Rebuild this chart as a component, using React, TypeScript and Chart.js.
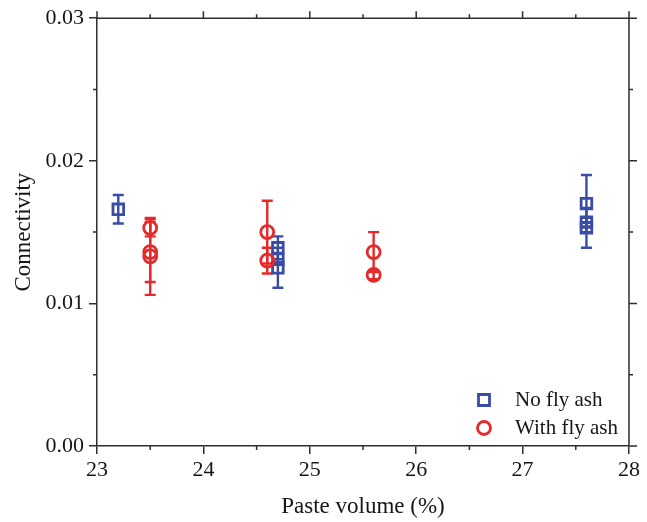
import React, { useEffect, useRef } from "react";
import { Chart, registerables } from "chart.js";

Chart.register(...registerables);

// ---- data ----
const xTickValues = [23, 24, 25, 26, 27, 28];
const yTickValues = [0, 0.01, 0.02, 0.03];

const noFlyAshX = [23.2, 24.7, 24.7, 24.7, 27.6, 27.6, 27.6];
const noFlyAshY = [0.0166, 0.0139, 0.0131, 0.0125, 0.017, 0.0157, 0.0153];
const noFlyAshErr = [0.001, 0.0008, 0.0004, 0.0014, 0.002, 0.0003, 0.0014];

const withFlyAshX = [23.5, 23.5, 23.5, 24.6, 24.6, 25.6, 25.6];
const withFlyAshY = [0.0153, 0.0136, 0.0133, 0.015, 0.013, 0.0136, 0.012];
const withFlyAshErr = [0.0006, 0.0021, 0.0027, 0.0022, 0.0009, 0.0014, 0.0003];

const seriesLabels = ["No fly ash", "With fly ash"];
const xTitle = "Paste volume (%)";
const yTitle = "Connectivity";

const BLUE = "#3a4da6";
const RED = "#e6292a";
const AXIS = "#2e2e2e";
const TEXT = "#161616";
const FONT = "'Liberation Serif', 'Times New Roman', serif";

const errorsByDataset: number[][] = [noFlyAshErr, withFlyAshErr];

const errorBarPlugin = {
  id: "errorBars",
  beforeDatasetsDraw(chart: any) {
    const ctx = chart.ctx;
    const yScale = chart.scales.y;
    chart.data.datasets.forEach((ds: any, di: number) => {
      const meta = chart.getDatasetMeta(di);
      const errs = errorsByDataset[di];
      ctx.save();
      ctx.strokeStyle = ds.borderColor;
      ctx.lineWidth = 2.4;
      meta.data.forEach((pt: any, i: number) => {
        const v = ds.data[i].y;
        const e = errs[i];
        const x = pt.x;
        const yTop = yScale.getPixelForValue(v + e);
        const yBot = yScale.getPixelForValue(v - e);
        const cap = 5.5;
        ctx.beginPath();
        ctx.moveTo(x, yTop);
        ctx.lineTo(x, yBot);
        ctx.moveTo(x - cap, yTop);
        ctx.lineTo(x + cap, yTop);
        ctx.moveTo(x - cap, yBot);
        ctx.lineTo(x + cap, yBot);
        ctx.stroke();
      });
      ctx.restore();
    });
  },
};

const framePlugin = {
  id: "frame",
  afterDraw(chart: any) {
    const ctx = chart.ctx;
    const { left, right, top, bottom } = chart.chartArea;
    const xs = chart.scales.x;
    const ys = chart.scales.y;
    ctx.save();
    ctx.strokeStyle = AXIS;
    ctx.lineWidth = 1.5;
    ctx.beginPath();
    ctx.moveTo(left, top);
    ctx.lineTo(right, top);
    ctx.moveTo(right, top);
    ctx.lineTo(right, bottom);
    for (let i = 0; i < xTickValues.length; i++) {
      const px = xs.getPixelForValue(xTickValues[i]);
      ctx.moveTo(px, top);
      ctx.lineTo(px, top - 7);
      if (i < xTickValues.length - 1) {
        const mv = (xTickValues[i] + xTickValues[i + 1]) / 2;
        const mp = xs.getPixelForValue(mv);
        ctx.moveTo(mp, top);
        ctx.lineTo(mp, top - 4);
        ctx.moveTo(mp, bottom);
        ctx.lineTo(mp, bottom + 4);
      }
    }
    for (let i = 0; i < yTickValues.length; i++) {
      const py = ys.getPixelForValue(yTickValues[i]);
      ctx.moveTo(right, py);
      ctx.lineTo(right + 8, py);
      if (i < yTickValues.length - 1) {
        const mv = (yTickValues[i] + yTickValues[i + 1]) / 2;
        const mp = ys.getPixelForValue(mv);
        ctx.moveTo(left, mp);
        ctx.lineTo(left - 4, mp);
        ctx.moveTo(right, mp);
        ctx.lineTo(right + 4, mp);
      }
    }
    ctx.stroke();

    // legend
    const mx = right - 145;
    const rows = [bottom - 46, bottom - 18];
    ctx.lineWidth = 2.8;
    ctx.font = `21px ${FONT}`;
    ctx.textBaseline = "middle";
    ctx.textAlign = "left";
    chart.data.datasets.forEach((ds: any, di: number) => {
      const y = rows[di];
      ctx.strokeStyle = ds.borderColor;
      ctx.beginPath();
      if (ds.pointStyle === "rect") {
        ctx.rect(mx - 5.5, y - 5.5, 11, 11);
      } else {
        ctx.arc(mx, y, 6.5, 0, Math.PI * 2);
      }
      ctx.stroke();
      ctx.fillStyle = TEXT;
      ctx.fillText(ds.label, mx + 31, y);
    });
    ctx.restore();
  },
};

export default function App() {
  const ref = useRef<HTMLCanvasElement>(null);
  useEffect(() => {
    document.body.style.margin = "0";
    const blueData = noFlyAshX.map((x, i) => ({ x, y: noFlyAshY[i] }));
    const redData = withFlyAshX.map((x, i) => ({ x, y: withFlyAshY[i] }));
    const chart = new Chart(ref.current as HTMLCanvasElement, {
      type: "scatter",
      data: {
        datasets: [
          {
            label: seriesLabels[0],
            data: blueData,
            pointStyle: "rect",
            pointRadius: 7.5,
            borderColor: BLUE,
            backgroundColor: "rgba(0,0,0,0)",
            borderWidth: 2.8,
            order: 2,
          },
          {
            label: seriesLabels[1],
            data: redData,
            pointStyle: "circle",
            pointRadius: 6.5,
            borderColor: RED,
            backgroundColor: "rgba(0,0,0,0)",
            borderWidth: 2.8,
            order: 1,
          },
        ],
      },
      options: {
        responsive: false,
        animation: false,
        devicePixelRatio: 1,
        layout: { padding: { top: 16, right: 18, left: 0, bottom: 0 } },
        plugins: {
          legend: { display: false },
          tooltip: { enabled: false },
        },
        scales: {
          x: {
            type: "linear",
            min: 23,
            max: 28,
            afterBuildTicks: (scale: any) => {
              scale.ticks = xTickValues.map((v) => ({ value: v }));
            },
            afterFit: (scale: any) => {
              scale.height = 76;
            },
            ticks: {
              stepSize: 1,
              color: TEXT,
              font: { family: FONT, size: 22 },
              padding: 3,
              maxRotation: 0,
              callback: (v: any) => String(v),
            },
            grid: {
              drawOnChartArea: false,
              drawTicks: true,
              tickLength: 8,
              color: AXIS,
              lineWidth: 1.5,
            },
            border: { display: true, color: AXIS, width: 1.5 },
            title: {
              display: true,
              text: xTitle,
              color: TEXT,
              font: { family: FONT, size: 23 },
              padding: { top: 0, bottom: 1 },
            },
          },
          y: {
            type: "linear",
            min: 0,
            max: 0.03,
            afterBuildTicks: (scale: any) => {
              scale.ticks = yTickValues.map((v) => ({ value: v }));
            },
            afterFit: (scale: any) => {
              scale.width = 97;
            },
            ticks: {
              stepSize: 0.01,
              color: TEXT,
              font: { family: FONT, size: 22 },
              padding: 5,
              callback: (v: any) => Number(v).toFixed(2),
            },
            grid: {
              drawOnChartArea: false,
              drawTicks: true,
              tickLength: 8,
              color: AXIS,
              lineWidth: 1.5,
            },
            border: { display: true, color: AXIS, width: 1.5 },
            title: {
              display: true,
              text: yTitle,
              color: TEXT,
              font: { family: FONT, size: 23 },
              padding: { top: 10, bottom: 0 },
            },
          },
        },
      },
      plugins: [errorBarPlugin, framePlugin],
    } as any);
    return () => chart.destroy();
  }, []);
  return (
    <div style={{ width: 647, height: 522 }}>
      <canvas ref={ref} width={647} height={522} />
    </div>
  );
}
